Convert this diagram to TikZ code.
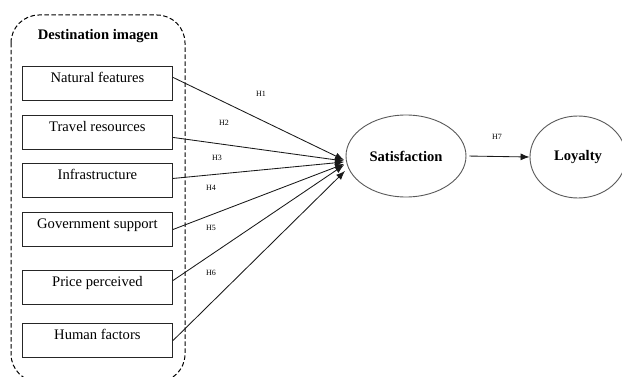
\documentclass[tikz,border=0pt]{standalone}
\usepackage{fontspec}
\setmainfont{Liberation Serif}
\usetikzlibrary{arrows.meta,calc,shapes.geometric}
\begin{document}
\begin{tikzpicture}[x=1pt,y=-1pt,
  ln/.style={draw=black!90, line width=0.85pt},
  fbox/.style={draw=black!85, line width=0.9pt, minimum width=150.5pt, inner xsep=0pt, inner ysep=0pt,
    text height=16.5pt, text depth=17.5pt, font=\fontsize{14.6}{16}\selectfont, anchor=north west},
  oval/.style={ellipse, draw=black!65, line width=0.9pt, font=\fontsize{14.6}{16}\selectfont\bfseries},
  hlab/.style={font=\fontsize{8}{9}\selectfont, inner sep=1pt},
  arr/.style={ln, -{Latex[length=9pt,width=7pt]}}]
\useasboundingbox (0,0) rectangle (622,377);
\fill[white] (0,0) rectangle (622,377);
% group
\draw[black, line width=1pt, dash pattern=on 4.5pt off 2.5pt, rounded corners=28pt] (11,15) rectangle (185,382);
\node[font=\fontsize{14.6}{16}\selectfont\bfseries] (title) at (98,36) {Destination imagen};
% boxes
\node[fbox] (b1) at (21.7,66) {Natural features};
\node[fbox] (b2) at (21.7,115) {Travel resources};
\node[fbox] (b3) at (21.7,163) {Infrastructure};
\node[fbox] (b4) at (21.7,212) {Government support};
\node[fbox] (b5) at (21.7,270) {Price perceived};
\node[fbox] (b6) at (21.7,323) {Human factors};
% ellipses
\node[oval, minimum width=120pt, minimum height=82pt] (sat) at (406,156) {Satisfaction};
\node[oval, minimum width=96pt, minimum height=82pt] (loy) at (578,157) {Loyalty};
% arrow end points
\coordinate (t1) at (344,160);
\coordinate (t2) at (344,161);
\coordinate (t3) at (344,162);
\coordinate (t4) at (344,164);
\coordinate (t5) at (344,165);
\coordinate (t6) at (345,171);
\draw[arr] ([yshift=6pt]b1.east) -- (t1);
\draw[arr] ([yshift=-5pt]b2.east) -- (t2);
\draw[arr] ([yshift=2pt]b3.east) -- (t3);
\draw[arr] (b4.east) -- (t4);
\draw[arr] ([yshift=7pt]b5.east) -- (t5);
\draw[arr] (b6.east) -- (t6);
\draw[arr, shorten <=3pt] (sat.east) -- (loy.west);
% labels
\node[hlab] (h1) at (261,94) {H1};
\node[hlab] (h2) at (224,123) {H2};
\node[hlab] (h3) at (217,158) {H3};
\node[hlab] (h4) at (211,188) {H4};
\node[hlab] (h5) at (211,228) {H5};
\node[hlab] (h6) at (211,273) {H6};
\node[hlab] (h7) at (497,137) {H7};
\end{tikzpicture}
\end{document}
